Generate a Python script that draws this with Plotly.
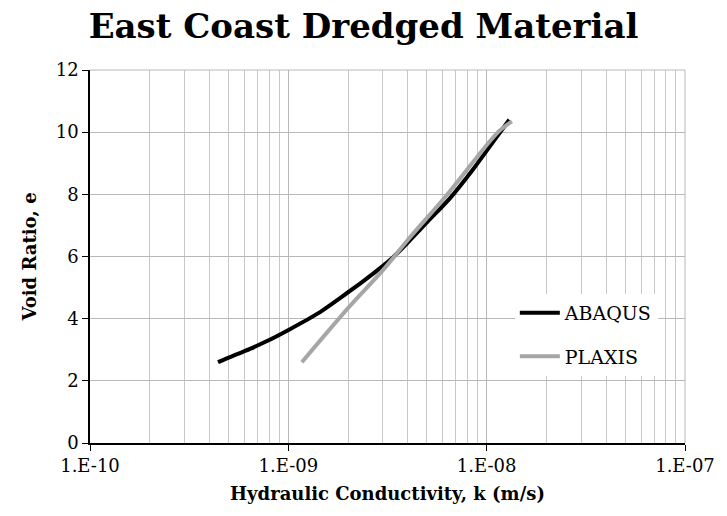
import plotly.graph_objects as go

# ABAQUS curve (k in m/s, void ratio e)
abaqus_k = [4.42e-10, 4.97e-10, 6.41e-10, 7.81e-10, 9.97e-10, 1.41e-9, 2.0e-9,
            2.38e-9, 3.0e-9, 3.37e-9, 4.0e-9, 5.0e-9, 6.54e-9, 8.53e-9, 1.04e-8, 1.30e-8]
abaqus_e = [2.60, 2.74, 3.03, 3.28, 3.63, 4.17, 4.85,
            5.20, 5.70, 5.97, 6.45, 7.10, 7.88, 8.80, 9.55, 10.40]

# PLAXIS curve
plaxis_k = [1.17e-9, 2.0e-9, 3.0e-9, 4.0e-9, 6.30e-9, 1.14e-8, 1.34e-8]
plaxis_e = [2.60, 4.34, 5.56, 6.53, 7.98, 10.00, 10.35]

x_tickvals = [1e-10, 1e-9, 1e-8, 1e-7]
x_ticktext = ["1.E-10", "1.E-09", "1.E-08", "1.E-07"]
x_minor = [m * 10.0 ** d for d in (-10, -9, -8) for m in range(2, 10)]
y_tickvals = [0, 2, 4, 6, 8, 10, 12]

SERIF = "DejaVu Serif"

fig = go.Figure()
fig.add_trace(go.Scatter(x=abaqus_k, y=abaqus_e, mode="lines", name="ABAQUS",
                         legendgroup="a",
                         line=dict(color="black", width=4, shape="spline", smoothing=0.8)))
fig.add_trace(go.Scatter(x=plaxis_k, y=plaxis_e, mode="lines", name="PLAXIS",
                         legendgroup="p",
                         line=dict(color="#a6a6a6", width=4, shape="spline", smoothing=0.8)))

fig.update_layout(
    width=727, height=516,
    margin=dict(l=90, r=42, t=70, b=73),
    paper_bgcolor="white", plot_bgcolor="white",
    font=dict(family=SERIF, color="black", size=18),
    title=dict(text="<b>East Coast Dredged Material</b>", x=0.5, xanchor="center",
               y=0.95, yanchor="middle", yref="container",
               font=dict(family=SERIF, size=34, color="black")),
    showlegend=True,
    legend=dict(x=0.714, y=0.40, xanchor="left", yanchor="top",
                bgcolor="white", borderwidth=0,
                font=dict(family=SERIF, size=19, color="black"),
                tracegroupgap=16, itemwidth=40),
)

fig.update_xaxes(
    type="log", range=[-10, -7],
    tickmode="array", tickvals=x_tickvals, ticktext=x_ticktext,
    tickfont=dict(family=SERIF, size=18),
    showgrid=True, gridcolor="#b8b8b8", gridwidth=1,
    minor=dict(tickmode="array", tickvals=x_minor, showgrid=True,
               gridcolor="#c8c8c8", gridwidth=1, ticks=""),
    showline=True, linecolor="black", linewidth=1.5,
    ticks="outside", ticklen=6, tickcolor="black",
    title=dict(text="<b>Hydraulic Conductivity, k (m/s)</b>",
               font=dict(family=SERIF, size=18), standoff=12),
    zeroline=False, mirror=False,
)
fig.update_yaxes(
    range=[0, 12], tickmode="array", tickvals=y_tickvals,
    tickfont=dict(family=SERIF, size=18),
    showgrid=True, gridcolor="#b8b8b8", gridwidth=1,
    showline=True, linecolor="black", linewidth=1.5,
    ticks="outside", ticklen=6, tickcolor="black",
    title=dict(text="<b>Void Ratio, e</b>", font=dict(family=SERIF, size=18),
               standoff=14),
    zeroline=False,
)

# right and top border as light grid-like lines
fig.add_shape(type="line", xref="paper", yref="paper", x0=1, x1=1, y0=0, y1=1,
              line=dict(color="#b8b8b8", width=1))
fig.add_shape(type="line", xref="paper", yref="paper", x0=0, x1=1, y0=1, y1=1,
              line=dict(color="#b8b8b8", width=1))

fig.write_html("out.html")
